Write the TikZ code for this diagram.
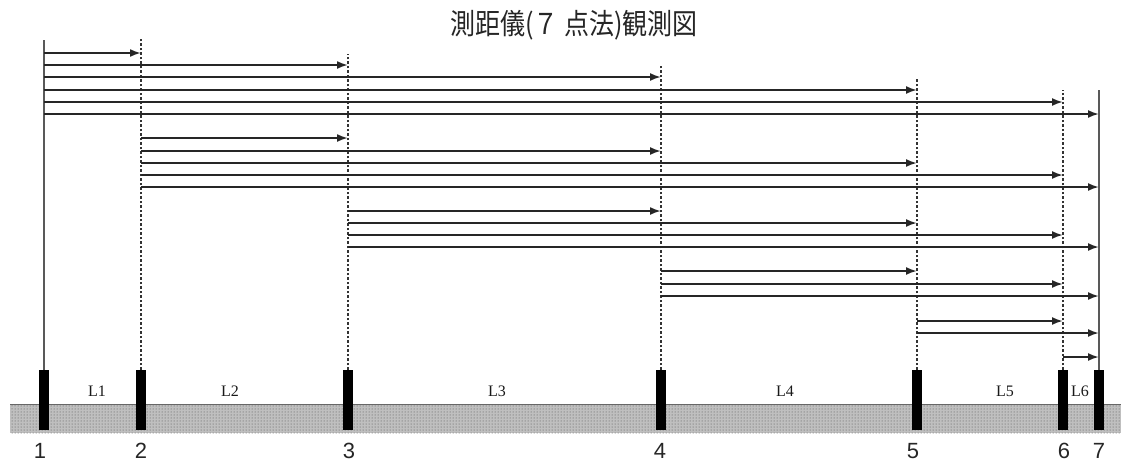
\documentclass[tikz,border=0pt]{standalone}
\usepackage{graphicx}
\usepackage{fontspec}
\setmainfont{Liberation Serif}
\newfontfamily\jpfont{Noto Sans CJK JP}
\newfontfamily\numfont{Liberation Sans}
\usetikzlibrary{arrows.meta,patterns}

\begin{document}
\begin{tikzpicture}[x=1pt,y=-1pt,
  post/.style={rectangle,fill=black,inner sep=0pt,minimum width=10pt,minimum height=60pt},
  sight/.style={line width=1.4pt,black!65},
  guide/.style={line width=1.5pt,black!80,dash pattern=on 2.5pt off 2pt},
  meas/.style={line width=1.9pt,black!85,-{Latex[length=11pt,width=8pt]}},
  seg/.style={font=\fontsize{16}{18}\selectfont,text=black!90},
  num/.style={font=\numfont\fontsize{22}{24}\selectfont,text=black!85}]
\useasboundingbox (0,0) rectangle (1121,463);
\node[font=\jpfont\fontsize{25}{27}\selectfont,text=black!85,inner sep=0pt] (title) at (574,25)
  {\scalebox{1}[1.15]{測距儀(７ 点法)観測図}};
% ground
\fill[black!25] (10,404) rectangle (1121,433);
\fill[pattern=dots,pattern color=black!70] (10,404) rectangle (1121,433);
\draw[black!60,line width=0.9pt] (10,404) -- (1121,404);
% posts
\foreach \n/\x in {1/44,2/141,3/348,4/661,5/917,6/1063,7/1099}
  \node[post] (p\n) at (\x,400) {};
\foreach \n/\x in {1/40,2/141,3/349,4/660,5/913,6/1064,7/1099}
  \node[num] (n\n) at (\x,451) {\n};
% spans
\foreach \n/\x in {1/97,2/230,3/497,4/785,5/1005,6/1080}
  \node[seg] (l\n) at (\x,391) {L\n};
% vertical lines
\draw[sight] (p1.north) -- (p1 |- 0,40);
\foreach \n/\t in {2/38,3/54,4/66,5/78,6/90}
  \draw[guide] (p\n.north) -- (p\n |- 0,\t);
\draw[sight] (p7.north) -- (p7 |- 0,90);
% measurements
\foreach \a/\b/\y in {1/2/53,1/3/65,1/4/77,1/5/90,1/6/102,1/7/114,
    2/3/138,2/4/151,2/5/163,2/6/175,2/7/187,
    3/4/211,3/5/223,3/6/235,3/7/247,
    4/5/271,4/6/284,4/7/296,
    5/6/321,5/7/333,
    6/7/357}
  \draw[meas] (p\a |- 0,\y) -- (p\b |- 0,\y);
\end{tikzpicture}
\end{document}
